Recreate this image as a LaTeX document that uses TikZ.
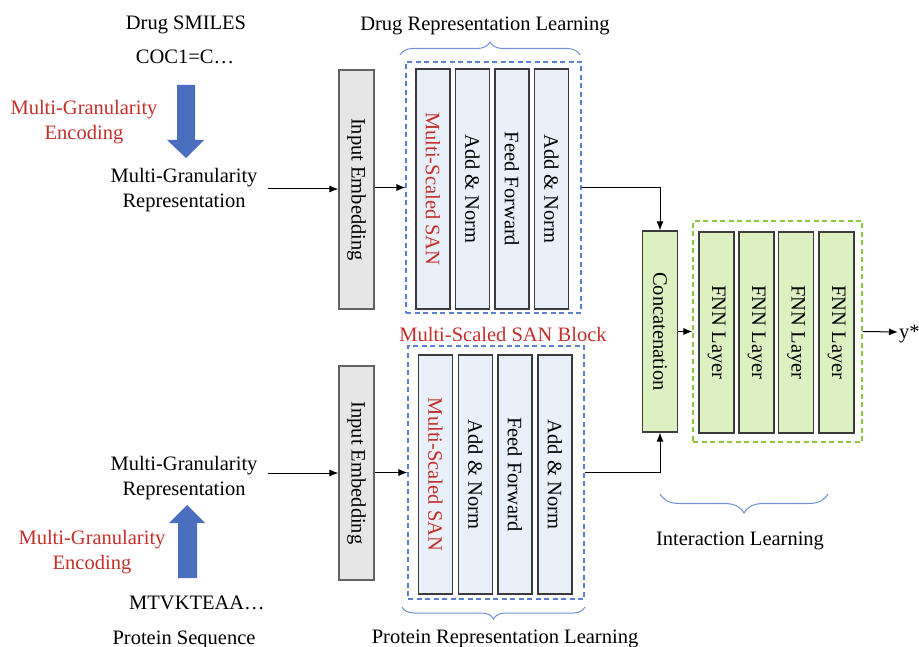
\documentclass[tikz,border=0pt]{standalone}
\usepackage{fontspec}
\setmainfont{Liberation Serif}
\usetikzlibrary{arrows.meta,decorations.pathreplacing,positioning}
\definecolor{redtxt}{HTML}{C3302A}
\definecolor{bigblue}{HTML}{4A6FBF}
\definecolor{dashblue}{HTML}{5B7FD1}
\definecolor{dashgreen}{HTML}{8CC63F}
\definecolor{fillblue}{HTML}{E9F0FA}
\definecolor{fillgreen}{HTML}{DDF0C2}
\definecolor{fillgray}{HTML}{E6E6E6}
\definecolor{edgegray}{HTML}{3C3C3C}
\definecolor{bracecol}{HTML}{7090D6}
\tikzset{
  txt/.style={font=\fontsize{20.5}{25}\selectfont, inner sep=2pt, align=center},
  redt/.style={txt, text=redtxt},
  layerbox/.style={draw=edgegray, line width=1.2pt, fill=fillblue, minimum width=34pt, inner sep=0pt},
  embbox/.style={draw=edgegray!80, line width=1.2pt, fill=fillgray, minimum width=35pt, inner sep=0pt},
  fnnbox/.style={draw=edgegray, line width=1.2pt, fill=fillgreen, minimum width=35pt, minimum height=201pt, inner sep=0pt},
  bluedash/.style={draw=dashblue, line width=1.1pt, dash pattern=on 5pt off 3.5pt, inner sep=0pt},
  greendash/.style={draw=dashgreen, line width=1.1pt, dash pattern=on 5pt off 3.5pt, inner sep=0pt},
  rotlabel/.style={rotate=-90, font=\fontsize{20.5}{25}\selectfont},
  conn/.style={line width=1pt, -{Latex[length=9pt,width=7pt]}},
  bracestyle/.style={draw=bracecol, line width=1pt, decorate},
  bigarrow/.style={fill=bigblue, draw=none}
}
\begin{document}
\begin{tikzpicture}[x=1pt,y=-1pt]
\useasboundingbox (0,0) rectangle (919,647);

% ---------- left side texts ----------
\node[txt] (smiles) at (186,25) {Drug SMILES};
\node[txt] (coc) at (185,57) {COC1=C…};
\node[redt] (enc1) at (84,122) {Multi-Granularity\\Encoding};
\node[txt] (mgr1) at (184,190.5) {Multi-Granularity\\Representation};

\node[txt] (mgr2) at (184,478) {Multi-Granularity\\Representation};
\node[redt] (enc2) at (92,552.5) {Multi-Granularity\\Encoding};
\node[txt] (mtv) at (197,602.5) {MTVKTEAA…};
\node[txt] (protseq) at (184,639.5) {Protein Sequence};

% big blue arrows
\fill[bigarrow] (177,85) -- (195,85) -- (195,140) -- (204,140) -- (186,158) -- (167,140) -- (177,140) -- cycle;
\fill[bigarrow] (178,578) -- (197,578) -- (197,523) -- (205,523) -- (187,505) -- (169,523) -- (178,523) -- cycle;

% ---------- drug branch ----------
\node[embbox, minimum height=239pt] (ie1) at (356.5,189.5) {};
\node[rotlabel] at (ie1) {Input Embedding};

\node[bluedash, minimum width=175pt, minimum height=251pt] (drugbox) at (493.5,187.5) {};
\node[layerbox, minimum height=240pt] (d1) at (433,189) {};
\node[layerbox, minimum height=240pt] (d2) at (472.5,189) {};
\node[layerbox, minimum height=240pt] (d3) at (512,189) {};
\node[layerbox, minimum height=240pt] (d4) at (551.5,189) {};
\node[rotlabel, text=redtxt] at (d1) {Multi-Scaled SAN};
\node[rotlabel] at (d2) {Add \& Norm};
\node[rotlabel] at (d3) {Feed Forward};
\node[rotlabel] at (d4) {Add \& Norm};

\node[txt] (drl) at (485,25.5) {Drug Representation Learning};
\draw[bracestyle, decoration={brace, amplitude=13pt}] (400,55) -- (580,55);

% ---------- protein branch ----------
\node[embbox, minimum height=214pt] (ie2) at (356.5,473) {};
\node[rotlabel] at (ie2) {Input Embedding};

\node[bluedash, minimum width=176pt, minimum height=253pt] (protbox) at (496,472.5) {};
\node[layerbox, minimum height=239pt] (p1) at (435.5,474.5) {};
\node[layerbox, minimum height=239pt] (p2) at (475.5,474.5) {};
\node[layerbox, minimum height=239pt] (p3) at (515,474.5) {};
\node[layerbox, minimum height=239pt] (p4) at (555,474.5) {};
\node[rotlabel, text=redtxt] at (p1) {Multi-Scaled SAN};
\node[rotlabel] at (p2) {Add \& Norm};
\node[rotlabel] at (p3) {Feed Forward};
\node[rotlabel] at (p4) {Add \& Norm};

\node[redt] (blocklbl) at (503,334.5) {Multi-Scaled SAN Block};
\node[txt] (prl) at (505,638.5) {Protein Representation Learning};
\draw[bracestyle, decoration={brace, amplitude=12pt}] (585,607) -- (402,607);

% ---------- interaction ----------
\node[fnnbox, fill=fillgreen] (concat) at (660,331.5) {};
\node[rotlabel] at (concat) {Concatenation};

\node[greendash, minimum width=169pt, minimum height=221pt] (fnnbox) at (777.5,331.5) {};
\node[fnnbox] (f1) at (716.5,332.5) {};
\node[fnnbox] (f2) at (756.5,332.5) {};
\node[fnnbox] (f3) at (796,332.5) {};
\node[fnnbox] (f4) at (836.5,332.5) {};
\node[rotlabel] at (f1) {FNN Layer};
\node[rotlabel] at (f2) {FNN Layer};
\node[rotlabel] at (f3) {FNN Layer};
\node[rotlabel] at (f4) {FNN Layer};

\node[txt, anchor=west, inner sep=0pt] (ystar) at (899,334) {y*};
\node[txt] (il) at (740,540.5) {Interaction Learning};
\draw[bracestyle, decoration={brace, amplitude=19pt}] (828,494) -- (660,494);

% ---------- connectors ----------
\coordinate (s1) at (268,189);
\coordinate (s2) at (268,473);
\coordinate (yend) at (898,332);
\draw[conn] (s1) -- (ie1.west |- s1);
\draw[conn] (s2) -- (ie2.west |- s2);
\draw[conn] (ie1.east |- drugbox.west) -- (drugbox.west);
\draw[conn] (ie2.east |- protbox.west) -- (protbox.west);
\draw[conn] (drugbox.east) -| (concat.north);
\draw[conn] (protbox.east) -| (concat.south);
\draw[conn] (concat.east |- fnnbox.west) -- (fnnbox.west);
\draw[conn] (fnnbox.east) -- (yend);
\end{tikzpicture}
\end{document}
